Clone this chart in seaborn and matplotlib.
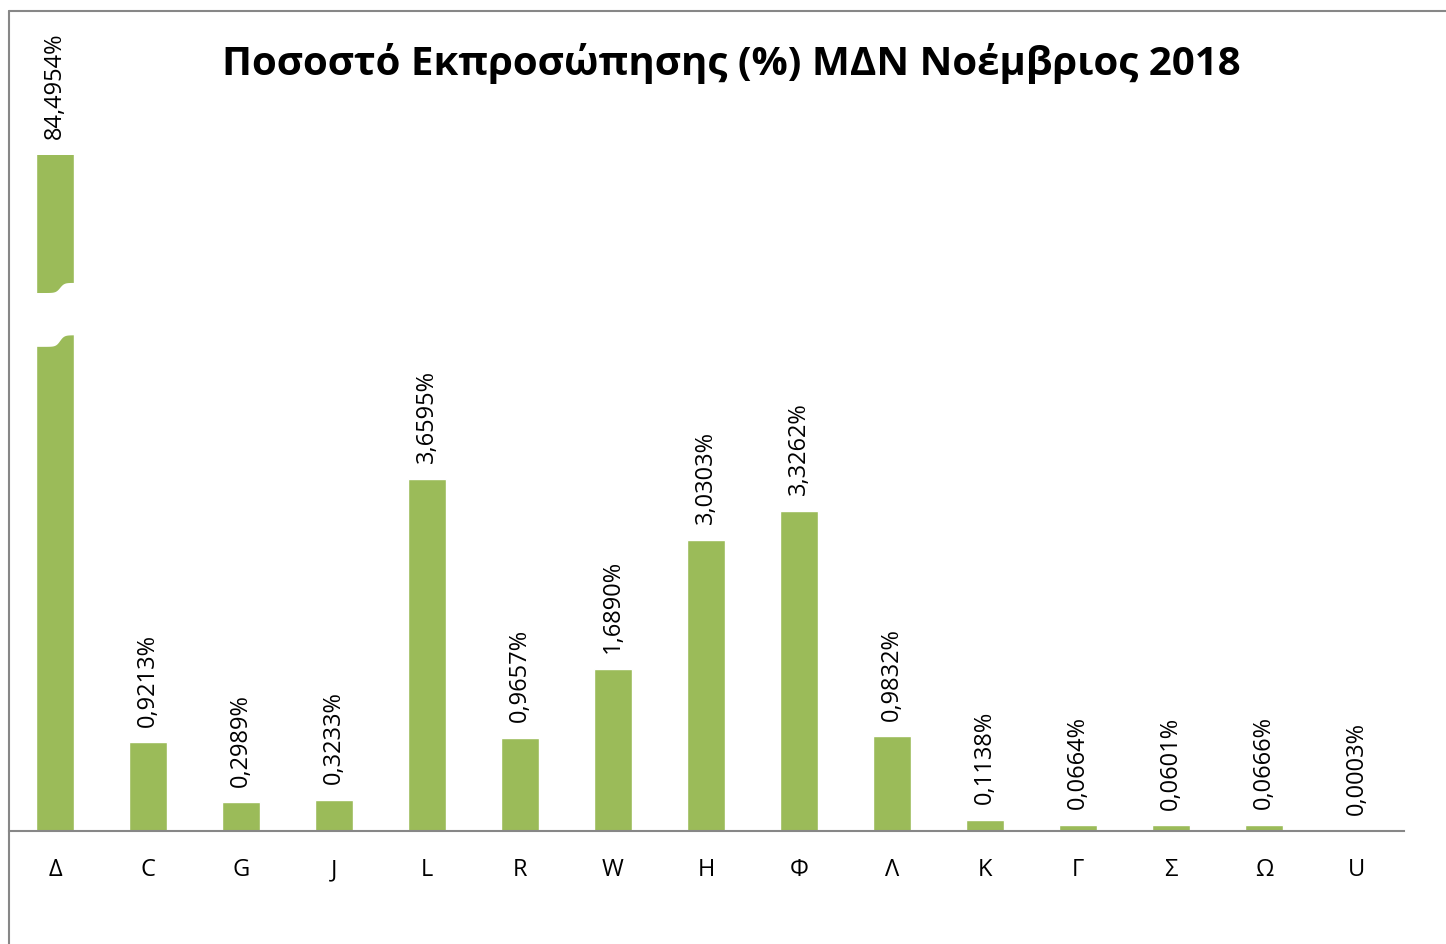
"""
Bar chart: representation percentage per MDN category, November 2018.
The dominant category is drawn with a broken bar so the small ones stay readable.
"""

import numpy as np
import pandas as pd
import matplotlib
matplotlib.use('Agg')
import matplotlib.pyplot as plt
from matplotlib.lines import Line2D
import seaborn as sns

# --- data -----------------------------------------------------------------
categories = ['Δ', 'C', 'G', 'J', 'L', 'R', 'W', 'H', 'Φ', 'Λ', 'Κ', 'Γ', 'Σ', 'Ω', 'U']
shares = [84.4954, 0.9213, 0.2989, 0.3233, 3.6595, 0.9657, 1.6890, 3.0303,
          3.3262, 0.9832, 0.1138, 0.0664, 0.0601, 0.0666, 0.0003]
title = 'Ποσοστό Εκπροσώπησης (%) ΜΔΝ Νοέμβριος 2018'

BAR_COLOR = '#9BBB59'
GRID_GRAY = '#878787'
Y_TOP = 7.03  # visible range; the first bar is cut off here


def fmt_pct(v):
    return f"{v:.4f}".replace('.', ',') + '%'


def draw_break(ax, x0, y_mid):
    """White wavy band across the truncated bar."""
    xs = np.linspace(x0 - 0.26, x0 + 0.26, 200)
    step = 0.5 * (1 + np.tanh((xs - x0 - 0.05) / 0.045))
    upper = y_mid + 0.29 + 0.105 * step
    lower = y_mid - 0.27 + 0.12 * step
    ax.fill_between(xs, lower, upper, color='white', zorder=5, linewidth=0)


def main():
    sns.set_style('white')
    plt.rcParams['font.family'] = ['Open Sans', 'DejaVu Sans']
    plt.rcParams['text.color'] = 'black'
    plt.rcParams['xtick.color'] = 'black'

    df = pd.DataFrame({'category': categories, 'share': shares})

    fig = plt.figure(figsize=(14.46, 9.45), dpi=100)
    W, H = 1446, 945
    ax = fig.add_axes([8.5 / W, (H - 832) / H, 1395 / W, 676 / H])

    sns.barplot(data=df, x='category', y='share', color=BAR_COLOR,
                width=0.4, saturation=1, ax=ax, order=categories)

    ax.set_xlim(-0.5, len(categories) - 0.5)
    ax.set_ylim(0, Y_TOP)

    # value labels
    for i, v in enumerate(shares):
        ax.annotate(fmt_pct(v), xy=(i, min(v, Y_TOP)), xytext=(0, 12),
                    textcoords='offset points', rotation=90,
                    ha='center', va='bottom', fontsize=17,
                    annotation_clip=False)

    draw_break(ax, 0, 5.31)

    # axes styling
    for side in ['top', 'left', 'right']:
        ax.spines[side].set_visible(False)
    ax.spines['bottom'].set_color(GRID_GRAY)
    ax.spines['bottom'].set_linewidth(1.5)
    ax.set_yticks([])
    ax.set_xlabel('')
    ax.set_ylabel('')
    ax.tick_params(axis='x', length=0, pad=19, labelsize=17)

    # title
    fig.text(731 / W, 1 - 63 / H, title, ha='center', va='center',
             fontsize=29, fontweight='bold')

    # outer chart frame (only left and top edges show in the crop)
    fig.add_artist(Line2D([9 / W, 9 / W], [0, 1 - 12 / H],
                          transform=fig.transFigure, color=GRID_GRAY, lw=1.5))
    fig.add_artist(Line2D([9 / W, 1], [1 - 12 / H, 1 - 12 / H],
                          transform=fig.transFigure, color=GRID_GRAY, lw=1.5))

    fig.savefig('out.png', dpi=100)
    plt.close(fig)


if __name__ == '__main__':
    main()
